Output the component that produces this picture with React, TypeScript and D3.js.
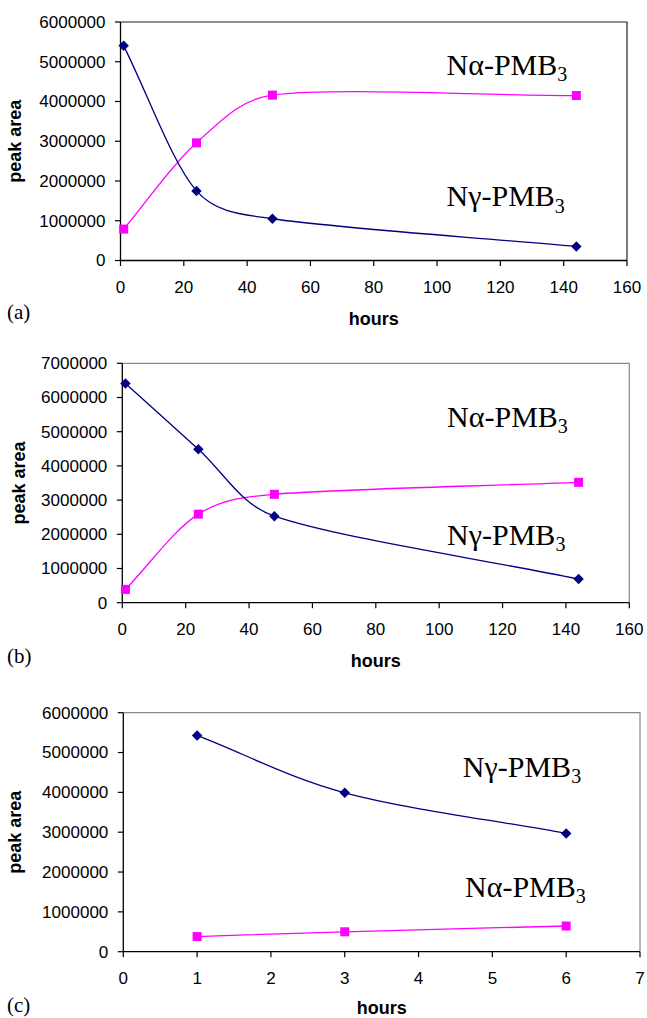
import React from "react";
import * as d3 from "d3";

// ---- data ----
const hoursAB = [1, 24, 48, 144];
const nGammaA = [5400000, 1750000, 1050000, 350000];
const nAlphaA = [790000, 2960000, 4160000, 4150000];

const nGammaB = [6410000, 4490000, 2530000, 690000];
const nAlphaB = [390000, 2590000, 3170000, 3520000];

const hoursC = [1, 3, 6];
const nGammaC = [5430000, 3990000, 2970000];
const nAlphaC = [380000, 500000, 645000];

const xTicksAB = [0, 20, 40, 60, 80, 100, 120, 140, 160];
const xTicksC = [0, 1, 2, 3, 4, 5, 6, 7];
const yTicksA = [0, 1000000, 2000000, 3000000, 4000000, 5000000, 6000000];
const yTicksB = [0, 1000000, 2000000, 3000000, 4000000, 5000000, 6000000, 7000000];
const yTicksC = yTicksA;

const panelLetters = ["(a)", "(b)", "(c)"];
const xTitle = "hours";
const yTitle = "peak area";

// label anchors in data coordinates [x, y]
const alphaLabelPos = [[103, 4670000], [102.5, 5150000], [4.63, 1380000]];
const gammaLabelPos = [[103, 1370000], [102.5, 1690000], [4.6, 4390000]];

const NAVY = "#000080";
const MAGENTA = "#FF00FF";

type PanelCfg = {
  left: number; top: number; right: number; bottom: number;
  xMax: number; yMax: number; xTicks: number[]; yTicks: number[];
  hours: number[]; gamma: number[]; alpha: number[];
  frame: string; letterY: number; titleY: number; yTitleX: number;
  idx: number;
};

const panels: PanelCfg[] = [
  { left: 120.5, top: 22, right: 627, bottom: 260.5, xMax: 160, yMax: 6000000, xTicks: xTicksAB, yTicks: yTicksA,
    hours: hoursAB, gamma: nGammaA, alpha: nAlphaA, frame: "#222", letterY: 319, titleY: 325, yTitleX: 21, idx: 0 },
  { left: 122.3, top: 363.3, right: 629.3, bottom: 602.7, xMax: 160, yMax: 7000000, xTicks: xTicksAB, yTicks: yTicksB,
    hours: hoursAB, gamma: nGammaB, alpha: nAlphaB, frame: "#888", letterY: 663, titleY: 666.5, yTitleX: 25, idx: 1 },
  { left: 123.3, top: 712.7, right: 640, bottom: 951.7, xMax: 7, yMax: 6000000, xTicks: xTicksC, yTicks: yTicksC,
    hours: hoursC, gamma: nGammaC, alpha: nAlphaC, frame: "#888", letterY: 1012, titleY: 1013.5, yTitleX: 21, idx: 2 },
];

// Excel-like smoothed line: Catmull-Rom tangents with arm length capped by segment length
function smoothPath(pts: [number, number][]): string {
  const p = d3.path();
  const n = pts.length;
  if (n === 0) return "";
  p.moveTo(pts[0][0], pts[0][1]);
  const tangent = (i: number): [number, number] => {
    const a = pts[Math.max(0, i - 1)];
    const b = pts[Math.min(n - 1, i + 1)];
    const k = i === 0 || i === n - 1 ? 1 / 3 : 1 / 6;
    return [(b[0] - a[0]) * k, (b[1] - a[1]) * k];
  };
  const cap = (v: [number, number], maxLen: number): [number, number] => {
    const l = Math.hypot(v[0], v[1]);
    if (l <= maxLen || l === 0) return v;
    return [(v[0] * maxLen) / l, (v[1] * maxLen) / l];
  };
  for (let i = 0; i < n - 1; i++) {
    const a = pts[i];
    const b = pts[i + 1];
    const seg = Math.hypot(b[0] - a[0], b[1] - a[1]);
    const t0 = cap(tangent(i), seg * 0.36);
    const t1 = cap(tangent(i + 1), seg * 0.36);
    p.bezierCurveTo(a[0] + t0[0], a[1] + t0[1], b[0] - t1[0], b[1] - t1[1], b[0], b[1]);
  }
  return p.toString();
}

function Label({ x, y, greek }: { x: number; y: number; greek: string }) {
  return (
    <text x={x} y={y} fontFamily="'Liberation Serif', 'Times New Roman', serif" fontSize={30} fill="#000">
      {"N" + greek + "-PMB"}
      <tspan fontSize={20} dy={6.5}>3</tspan>
    </text>
  );
}

function Panel({ p }: { p: PanelCfg }) {
  const x = d3.scaleLinear().domain([0, p.xMax]).range([p.left, p.right]);
  const y = d3.scaleLinear().domain([0, p.yMax]).range([p.bottom, p.top]);
  const gPts: [number, number][] = p.hours.map((h, i) => [h, p.gamma[i]]);
  const aPts: [number, number][] = p.hours.map((h, i) => [h, p.alpha[i]]);
  const toPx = (pts: [number, number][]) => pts.map((d) => [x(d[0]), y(d[1])] as [number, number]);
  const font = "'Liberation Sans', Arial, sans-serif";
  const cy = (p.top + p.bottom) / 2;
  const cx = (p.left + p.right) / 2;
  const diamond = d3.symbol(d3.symbolDiamond2, 70)();
  const ap = alphaLabelPos[p.idx];
  const gp = gammaLabelPos[p.idx];
  return (
    <g>
      {/* frame top/right */}
      <path d={`M${p.left},${p.top}H${p.right}V${p.bottom}`} fill="none" stroke={p.frame} strokeWidth={1.2} />
      {/* axes */}
      <line x1={p.left} x2={p.left} y1={p.top} y2={p.bottom} stroke="#000" strokeWidth={1.3} />
      <line x1={p.left} x2={p.right} y1={p.bottom} y2={p.bottom} stroke="#000" strokeWidth={1.3} />
      {p.yTicks.map((t) => (
        <g key={"y" + t}>
          <line x1={p.left - 5.5} x2={p.left} y1={y(t)} y2={y(t)} stroke="#000" strokeWidth={1.2} />
          <text x={p.left - 15} y={y(t)} dy="0.35em" textAnchor="end" fontFamily={font} fontSize={17} fill="#000">
            {t}
          </text>
        </g>
      ))}
      {p.xTicks.map((t) => (
        <g key={"x" + t}>
          <line x1={x(t)} x2={x(t)} y1={p.bottom} y2={p.bottom + 5.5} stroke="#000" strokeWidth={1.2} />
          <text x={x(t)} y={p.bottom + 32} textAnchor="middle" fontFamily={font} fontSize={17} fill="#000">
            {t}
          </text>
        </g>
      ))}
      <text x={cx} y={p.titleY} textAnchor="middle" fontFamily={font} fontSize={18} fontWeight="bold" fill="#000">
        {xTitle}
      </text>
      <text
        transform={`translate(${p.yTitleX},${cy}) rotate(-90)`}
        textAnchor="middle"
        fontFamily={font}
        fontSize={18}
        fontWeight="bold"
        fill="#000"
      >
        {yTitle}
      </text>
      <text x={7} y={p.letterY} fontFamily="'Liberation Serif', 'Times New Roman', serif" fontSize={21} fill="#000">
        {panelLetters[p.idx]}
      </text>
      <path d={smoothPath(toPx(aPts))} fill="none" stroke={MAGENTA} strokeWidth={1.3} />
      <path d={smoothPath(toPx(gPts))} fill="none" stroke={NAVY} strokeWidth={1.3} />
      {gPts.map((d, i) => (
        <path key={"g" + i} d={diamond || ""} transform={`translate(${x(d[0])},${y(d[1])})`} fill={NAVY} />
      ))}
      {aPts.map((d, i) => (
        <rect key={"a" + i} x={x(d[0]) - 4.5} y={y(d[1]) - 4.5} width={9} height={9} fill={MAGENTA} />
      ))}
      <Label x={x(ap[0])} y={y(ap[1])} greek="α" />
      <Label x={x(gp[0])} y={y(gp[1])} greek="γ" />
    </g>
  );
}

export default function App() {
  return (
    <svg
      width={647}
      height={1018}
      style={{ position: "absolute", left: 0, top: 0, background: "#fff" }}
    >
      <rect x={0} y={0} width={647} height={1018} fill="#fff" />
      {panels.map((p) => (
        <Panel key={p.idx} p={p} />
      ))}
    </svg>
  );
}
